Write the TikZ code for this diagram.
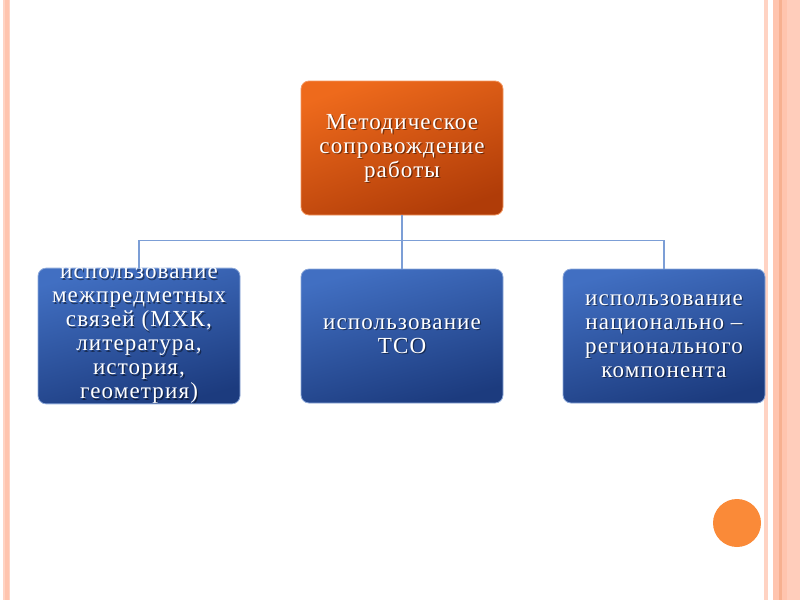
\documentclass[tikz,border=0pt]{standalone}
\usepackage{fontspec}
\setmainfont{Liberation Serif}
\newfontfamily\boxfont[LetterSpace=5]{Liberation Serif}
\definecolor{orA}{HTML}{EE6A1C}
\definecolor{orB}{HTML}{B03C08}
\definecolor{blA}{HTML}{416FC2}
\definecolor{blB}{HTML}{1C3B7E}
\definecolor{conncol}{HTML}{7C9ED6}
\definecolor{frA}{HTML}{FFD3C3}
\definecolor{frB}{HTML}{FFC4AE}
\definecolor{frC}{HTML}{F4A883}
\definecolor{dotcol}{HTML}{FA8A38}
\begin{document}
\begin{tikzpicture}[x=1pt,y=-1pt,
  bfont/.style={font=\boxfont\fontsize{23}{24}\selectfont},
  box/.style={rounded corners=8pt, minimum width=202pt, minimum height=134pt,
    text=white, align=center, bfont, inner sep=0pt, line width=0.8pt},
  tshadow/.style={path picture={\node[text=black, opacity=0.45, align=center, bfont, inner sep=0pt]
      at ([shift={(1.3,1.3)}]path picture bounding box.center) {#1};}},
  orbox/.style={box, top color=orA, bottom color=orB, shading angle=20, draw=orA!70!white},
  blbox/.style={box, top color=blA, bottom color=blB, shading angle=15, draw=blA!60!white},
  conn/.style={draw=conncol, line width=1.5pt}
]
\useasboundingbox (0,0) rectangle (800,600);
% frame stripes
\fill[frA] (3,0) rectangle (10,600);
\fill[frB] (5,0) rectangle (8.5,600);
\fill[frA] (764,0) rectangle (768,600);
\fill[frB] (773,0) rectangle (800,600);
\fill[frC!70!frB] (779,0) rectangle (782,600);
\fill[frA!60!frB] (787,0) rectangle (800,600);
% dot
\fill[dotcol] (737,523) circle (24);
% boxes
\node[orbox, tshadow={Методическое\\сопровождение\\работы}] (top) at (402,148) {Методическое\\сопровождение\\работы};
\node[blbox, tshadow={использование\\межпредметных\\связей (МХК,\\литература,\\история,\\геометрия)}] (b1) at (139,336) {использование\\межпредметных\\связей (МХК,\\литература,\\история,\\геометрия)};
\node[blbox, tshadow={использование\\ТСО}] (b2) at (402,336) {использование\\ТСО};
\node[blbox, tshadow={использование\\национально –\\регионального\\компонента}] (b3) at (664,336) {использование\\национально –\\регионального\\компонента};
% connectors
\draw[conn] (top.south) -- (b2.north);
\draw[conn] (b1.north) -- ++(0,-27) -| (b3.north);
\end{tikzpicture}
\end{document}
